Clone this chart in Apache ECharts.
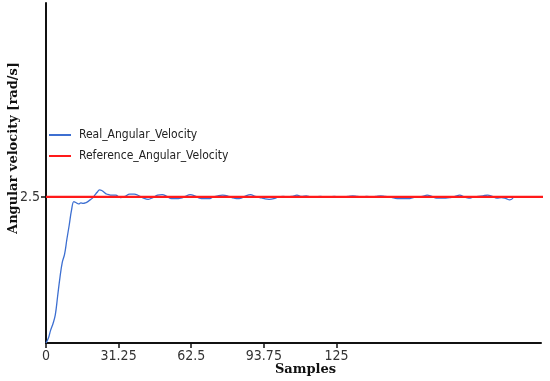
<!DOCTYPE html>
<html><head><meta charset="utf-8">
<script src="https://cdn.jsdelivr.net/npm/echarts@6/dist/echarts.min.js"></script>
<style>html,body{margin:0;padding:0;background:#fff}#c{width:550px;height:381px}</style>
</head><body><div id="c"></div>
<script>
const samples = [0,1,2,3,4,5,6,7,8,9,10,11,12,13,14,15,16,17,18,19,20,21,22,23,24,25,26,27,28,30,32,34,36,38,40,42,44,46,48,50,52,54,56,58,60,62,64,66,68,70,72,74,76,78,80,82,84,86,88,90,92,94,96,98,100,102,104,106,108,110,112,114,116,118,120,122,124,126,128,130,132,134,136,138,140,142,144,146,148,150,152,154,156,158,160,162,164,166,168,170,172,174,176,178,180,182,184,186,188,190,192,194,196,198,199.5,201];
const realValues = [0,0.08,0.22,0.33,0.48,0.80,1.12,1.38,1.52,1.78,2.02,2.28,2.42,2.40,2.38,2.40,2.39,2.40,2.42,2.45,2.48,2.53,2.58,2.62,2.61,2.58,2.55,2.54,2.53,2.53,2.49,2.51,2.55,2.55,2.52,2.48,2.46,2.49,2.53,2.54,2.51,2.47,2.47,2.48,2.51,2.54,2.52,2.48,2.47,2.47,2.50,2.52,2.53,2.52,2.49,2.47,2.48,2.52,2.54,2.51,2.49,2.47,2.46,2.47,2.50,2.51,2.50,2.51,2.53,2.51,2.52,2.50,2.50,2.51,2.50,2.50,2.51,2.50,2.50,2.51,2.52,2.51,2.50,2.51,2.50,2.51,2.52,2.51,2.50,2.48,2.47,2.47,2.47,2.49,2.50,2.51,2.53,2.51,2.48,2.48,2.48,2.49,2.51,2.53,2.50,2.48,2.50,2.51,2.52,2.53,2.51,2.48,2.49,2.47,2.45,2.48];
const refSamples = [0,216];
const refValues = [2.5,2.5];
const xTicks = [0,31.25,62.5,93.75,125];
const yTicks = [2.5];

const chart = echarts.init(document.getElementById('c'));
const narrow = '"Liberation Sans Narrow","DejaVu Sans Condensed",sans-serif';
chart.setOption({
  animation:false,
  grid:{left:46,right:9,top:3,bottom:38,containLabel:false,outerBoundsMode:'none'},
  legend:{
    left:44, top:124, orient:'vertical', itemGap:9,
    itemWidth:22, itemHeight:2, icon:'rect',
    textStyle:{fontFamily:narrow,fontSize:12,color:'#222',padding:[0,0,0,3]},
    data:['Real_Angular_Velocity','Reference_Angular_Velocity']
  },
  xAxis:{
    type:'value', min:0, max:213,
    name:'Samples', nameLocation:'middle', nameGap:20, nameMoveOverlap:false,
    nameTextStyle:{fontFamily:'"DejaVu Serif",serif',fontWeight:'bold',fontSize:13,color:'#111',padding:[0,0,0,24]},
    axisLine:{lineStyle:{color:'#111',width:2}},
    axisTick:{show:true,length:5,customValues:xTicks,lineStyle:{color:'#111',width:1.5}},
    axisLabel:{customValues:xTicks,fontFamily:narrow,fontSize:14,color:'#333',margin:6},
    splitLine:{show:false}
  },
  yAxis:{
    type:'value', min:0, max:5.82,
    name:'Angular velocity [rad/s]', nameLocation:'middle', nameGap:26, nameMoveOverlap:false,
    nameTextStyle:{fontFamily:'"DejaVu Serif",serif',fontWeight:'bold',fontSize:13,color:'#111',padding:[0,0,0,50]},
    axisLine:{show:true,lineStyle:{color:'#111',width:2}},
    axisTick:{show:true,length:5,customValues:yTicks,lineStyle:{color:'#111',width:1.5}},
    axisLabel:{customValues:yTicks,fontFamily:narrow,fontSize:14,color:'#333',margin:6},
    splitLine:{show:false}
  },
  series:[
    {name:'Real_Angular_Velocity',type:'line',smooth:0.4,symbol:'none',
     color:'#3d6fd1',lineStyle:{color:'#3d6fd1',width:1.3},
     data:samples.map((s,i)=>[s,realValues[i]])},
    {name:'Reference_Angular_Velocity',type:'line',symbol:'none',clip:false,
     color:'#ff1a1a',lineStyle:{color:'#ff1a1a',width:2.2},
     data:refSamples.map((s,i)=>[s,refValues[i]])}
  ]
});
</script></body></html>
